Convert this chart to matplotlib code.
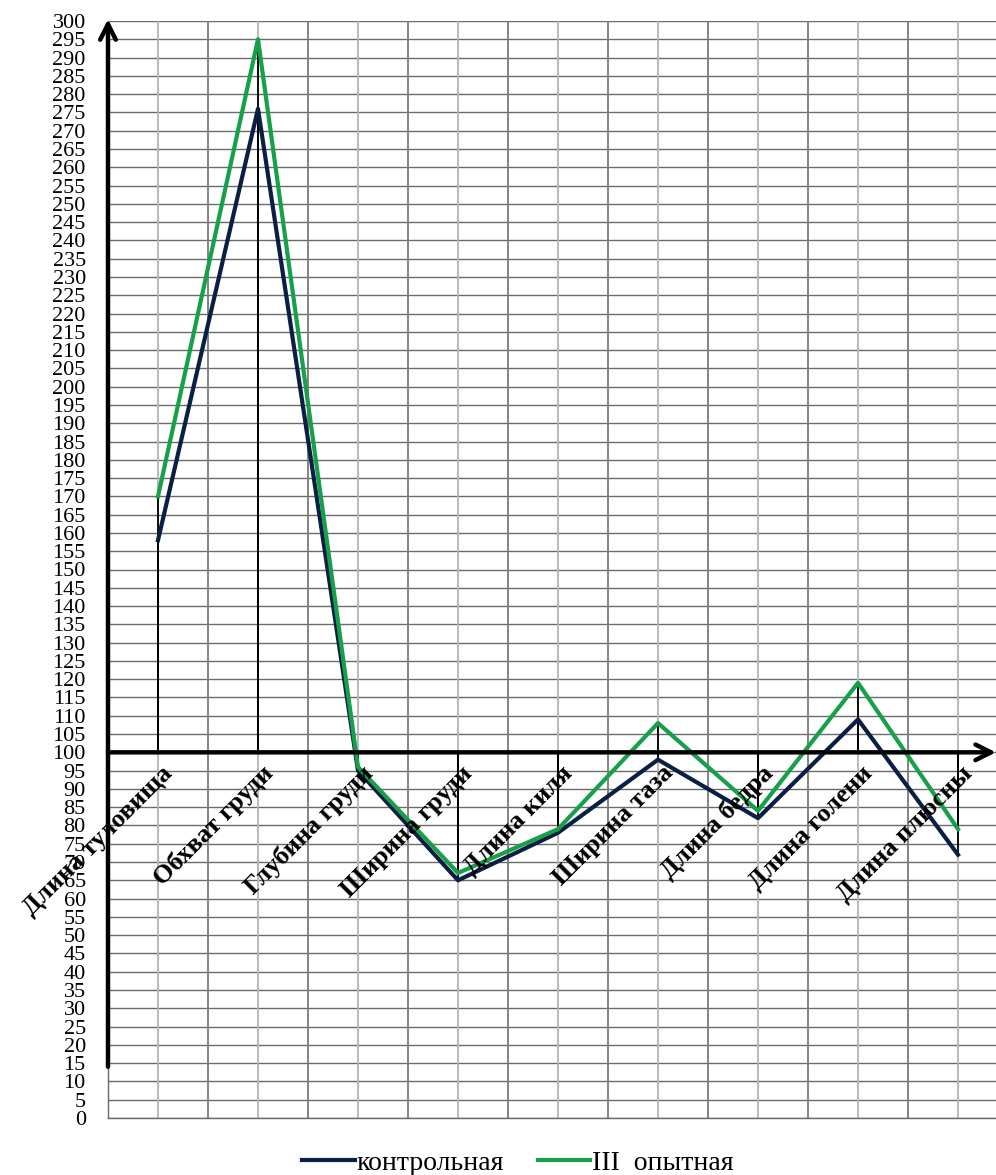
import matplotlib.pyplot as plt
import numpy as np

plt.rc('font', family='Liberation Serif')

categories = ['Длина туловища', 'Обхват груди', 'Глубина груди', 'Ширина груди',
              'Длина киля', 'Ширина таза', 'Длина бедра', 'Длина голени',
              'Длина плюсны']
control = [158, 276, 95, 65, 78, 98, 82, 109, 72]
group3 = [170, 295, 96, 67, 79, 108, 84, 119, 79]
series_names = ['контрольная', 'III  опытная']
yticks = np.arange(0, 301, 5)

dark = '#0b1f44'
green = '#17a04a'
base = 100

fig = plt.figure(figsize=(9.96, 11.75), dpi=100)
ax = fig.add_axes([108/996, 1 - 1118/1175, 1 - 108/996, (1118 - 21)/1175])

x = np.arange(len(categories))
ax.set_xlim(-0.5, 8.38)
ax.set_ylim(0, 300)

# grid
for v in yticks:
  ax.axhline(v, color='#6a6a6a', lw=1.0, zorder=0)
for gx in np.arange(-0.5, 8.4, 1):
  ax.axvline(gx, color='#7a7a7a', lw=1.3, zorder=0)
for gx in x:
  ax.axvline(gx, color='#b4b4b4', lw=1.3, zorder=0)

# drop lines
for vals in (control, group3):
  ax.vlines(x, base, vals, color='black', lw=1.3, zorder=3)

ax.plot(x, control, color=dark, lw=3, zorder=4, label=series_names[0])
ax.plot(x, group3, color=green, lw=3, zorder=5, label=series_names[1])

# axes arrows
ax.annotate('', xy=(-0.5, 300.5), xytext=(-0.5, 14), xycoords='data',
            arrowprops=dict(arrowstyle='->', lw=3.2, color='black',
                            mutation_scale=28, shrinkA=0, shrinkB=0),
            annotation_clip=False, zorder=6)
ax.annotate('', xy=(8.38, base), xytext=(-0.5, base),
            arrowprops=dict(arrowstyle='->', lw=3.2, color='black',
                            mutation_scale=28, shrinkA=0, shrinkB=0),
            annotation_clip=False, zorder=6)

for i, name in enumerate(categories):
  ax.text(i + 0.03, base - 2.5, name, rotation=45, rotation_mode='anchor',
          ha='right', va='top', fontsize=19, fontweight='bold', zorder=7)

ax.set_xticks([])
ax.set_yticks(yticks)
ax.set_yticklabels([str(v) for v in yticks], fontsize=16)
ax.tick_params(axis='y', length=0, pad=16)
for s in ('top', 'right'):
  ax.spines[s].set_visible(False)
for s in ('left', 'bottom'):
  ax.spines[s].set_color('#6a6a6a')
  ax.spines[s].set_linewidth(1.0)

fig.legend(loc='center', bbox_to_anchor=(0.52, 1 - 1163/1175), ncol=2,
           frameon=False, fontsize=20, handlelength=1.9, handletextpad=0.07,
           columnspacing=1.2)

fig.savefig('out.png', dpi=100)
